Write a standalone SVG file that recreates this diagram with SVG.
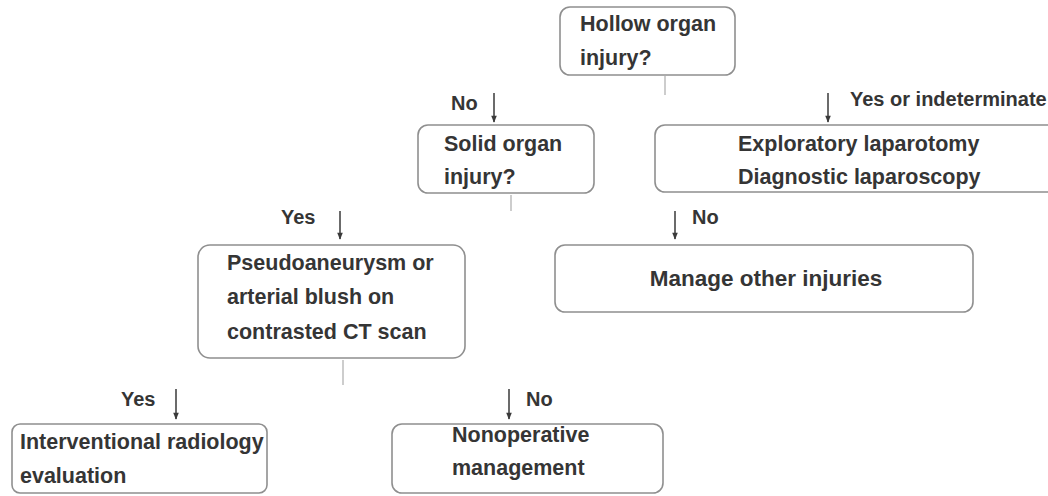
<svg xmlns="http://www.w3.org/2000/svg" width="1048" height="496" viewBox="0 0 1048 496">
  <defs>
    <marker id="arrowhead" viewBox="0 0 10 10" refX="9" refY="5" markerWidth="9" markerHeight="7" orient="auto" markerUnits="userSpaceOnUse">
      <path d="M0,1 L10,5 L0,9 Z" fill="#3a3a3a"/>
    </marker>
    <style>
      .box { fill: #ffffff; stroke: #8f8f8f; stroke-width: 1.6; }
      .txt { font-family: "Liberation Sans", Arial, sans-serif; font-weight: bold; font-size: 21.5px; fill: #353535; }
      .lbl { font-family: "Liberation Sans", Arial, sans-serif; font-weight: bold; font-size: 20px; fill: #353535; }
      .arrow { stroke: #3a3a3a; stroke-width: 1.5; fill: none; marker-end: url(#arrowhead); }
      .stub { stroke: #b8b8b8; stroke-width: 1.4; fill: none; }
    </style>
  </defs>
  <rect width="1048" height="496" fill="#ffffff"/>

  <g id="connectors">
    <line class="stub" x1="665" y1="76" x2="665" y2="95"/>
    <line class="stub" x1="511" y1="195" x2="511" y2="211"/>
    <line class="stub" x1="343" y1="360" x2="343" y2="385"/>

    <line class="arrow" x1="494" y1="93" x2="494" y2="122"/>
    <text class="lbl" x="451" y="110">No</text>

    <line class="arrow" x1="828" y1="93" x2="828" y2="122"/>
    <text class="lbl" x="850" y="106">Yes or indeterminate</text>

    <line class="arrow" x1="340" y1="211" x2="340" y2="239"/>
    <text class="lbl" x="281" y="224">Yes</text>

    <line class="arrow" x1="675" y1="211" x2="675" y2="239"/>
    <text class="lbl" x="692" y="224">No</text>

    <line class="arrow" x1="176" y1="389" x2="176" y2="419"/>
    <text class="lbl" x="121" y="406">Yes</text>

    <line class="arrow" x1="509" y1="389" x2="509" y2="419"/>
    <text class="lbl" x="526" y="406">No</text>
  </g>

  <g id="hollow-organ">
    <rect class="box" x="560" y="7" width="175" height="68" rx="10"/>
    <text class="txt" x="580" y="31">Hollow organ</text>
    <text class="txt" x="580" y="65">injury?</text>
  </g>

  <g id="solid-organ">
    <rect class="box" x="418" y="125" width="176" height="68" rx="10"/>
    <text class="txt" x="444" y="151">Solid organ</text>
    <text class="txt" x="444" y="184">injury?</text>
  </g>

  <g id="laparotomy">
    <rect class="box" x="655" y="125" width="410" height="67" rx="10"/>
    <text class="txt" x="738" y="151">Exploratory laparotomy</text>
    <text class="txt" x="738" y="184">Diagnostic laparoscopy</text>
  </g>

  <g id="pseudoaneurysm">
    <rect class="box" x="198" y="245" width="267" height="113" rx="12"/>
    <text class="txt" x="227" y="270">Pseudoaneurysm or</text>
    <text class="txt" x="227" y="304">arterial blush on</text>
    <text class="txt" x="227" y="339">contrasted CT scan</text>
  </g>

  <g id="other-injuries">
    <rect class="box" x="555" y="245" width="418" height="67" rx="10"/>
    <text class="txt" x="766" y="286" text-anchor="middle" style="font-size:22.5px">Manage other injuries</text>
  </g>

  <g id="interventional-radiology">
    <rect class="box" x="12" y="424" width="255" height="69" rx="8"/>
    <text class="txt" x="20" y="449">Interventional radiology</text>
    <text class="txt" x="20" y="483">evaluation</text>
  </g>

  <g id="nonoperative">
    <rect class="box" x="392" y="424" width="271" height="69" rx="10"/>
    <text class="txt" x="452" y="442">Nonoperative</text>
    <text class="txt" x="452" y="475">management</text>
  </g>
</svg>
